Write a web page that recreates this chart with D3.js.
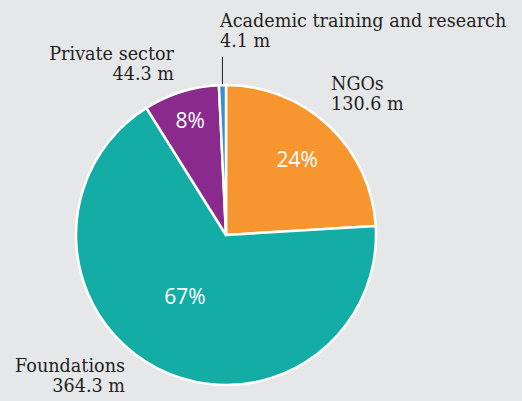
<!DOCTYPE html>
<html>
<head>
<meta charset="utf-8">
<script src="https://cdnjs.cloudflare.com/ajax/libs/d3/7.8.5/d3.min.js"></script>
<style>
  html, body { margin: 0; padding: 0; background: #e6e7e9; }
  svg { display: block; }
</style>
</head>
<body>
<svg id="chart"></svg>
<script>
// funding by sector, millions
const sectors = ['NGOs', 'Foundations', 'Private sector', 'Academic training and research'];
const amounts = [130.6, 364.3, 44.3, 4.1];
const amountLabels = ['130.6 m', '364.3 m', '44.3 m', '4.1 m'];
const shareLabels = ['24%', '67%', '8%', ''];
const colors = ['#f7962f', '#14ada6', '#8a2a8c', '#3a8fcf'];

var width = 522;
var height = 401;
var cx = 226, cy = 235, radius = 150;

var svg = d3.select('#chart')
    .attr('width', width)
    .attr('height', height);

var pie = d3.pie().sort(null).value(d => d);
var arcs = pie(amounts);

var arc = d3.arc().innerRadius(0).outerRadius(radius);

var g = svg.append('g').attr('transform', `translate(${cx},${cy})`);

g.selectAll('path.slice')
  .data(arcs)
  .enter().append('path')
    .attr('class', 'slice')
    .attr('d', arc)
    .attr('fill', (d, i) => colors[i])
    .attr('stroke', '#fff')
    .attr('stroke-width', 2.5)
    .attr('stroke-linejoin', 'round');

// percentage labels: [radius, angle shift in degrees]
let labelPos = [[104, 0], [74, 6.5], [120, 0], [0, 0]];
g.selectAll('text.share')
  .data(arcs)
  .enter().append('text')
    .attr('class', 'share')
    .attr('transform', (d, i) => {
      let a = (d.startAngle + d.endAngle) / 2 + labelPos[i][1] * Math.PI / 180;
      let r = labelPos[i][0];
      return `translate(${r * Math.sin(a)},${-r * Math.cos(a)})`;
    })
    .attr('text-anchor', 'middle')
    .attr('dy', '0.36em')
    .attr('fill', '#fff')
    .style('font-family', '"Open Sans", sans-serif')
    .style('font-size', '21px')
    .text((d, i) => shareLabels[i]);

// outside labels
let outer = [
  {x: 331, y: 90, anchor: 'start'},
  {x: 125, y: 372, anchor: 'end'},
  {x: 174, y: 60, anchor: 'end'},
  {x: 220, y: 27, anchor: 'start'}
];

let lbl = svg.selectAll('g.lbl')
  .data(sectors)
  .enter().append('g')
    .attr('class', 'lbl');

lbl.append('text')
    .attr('x', (d, i) => outer[i].x)
    .attr('y', (d, i) => outer[i].y)
    .attr('text-anchor', (d, i) => outer[i].anchor)
    .attr('fill', '#231f20')
    .style('font-family', '"DejaVu Serif", serif')
    .style('font-size', '17.6px')
    .each(function (d, i) {
      d3.select(this).append('tspan').text(d);
      d3.select(this).append('tspan')
        .attr('x', outer[i].x)
        .attr('dy', 20)
        .text(amountLabels[i]);
    });

// leader line for the tiny academic slice
let small = arcs[3];
let midA = (small.startAngle + small.endAngle) / 2;
svg.append('line')
    .attr('x1', cx + radius * Math.sin(midA))
    .attr('x2', cx + radius * Math.sin(midA))
    .attr('y1', cy - radius * Math.cos(midA) - 1)
    .attr('y2', 57)
    .attr('stroke', '#231f20')
    .attr('stroke-width', 1);
</script>
</body>
</html>
